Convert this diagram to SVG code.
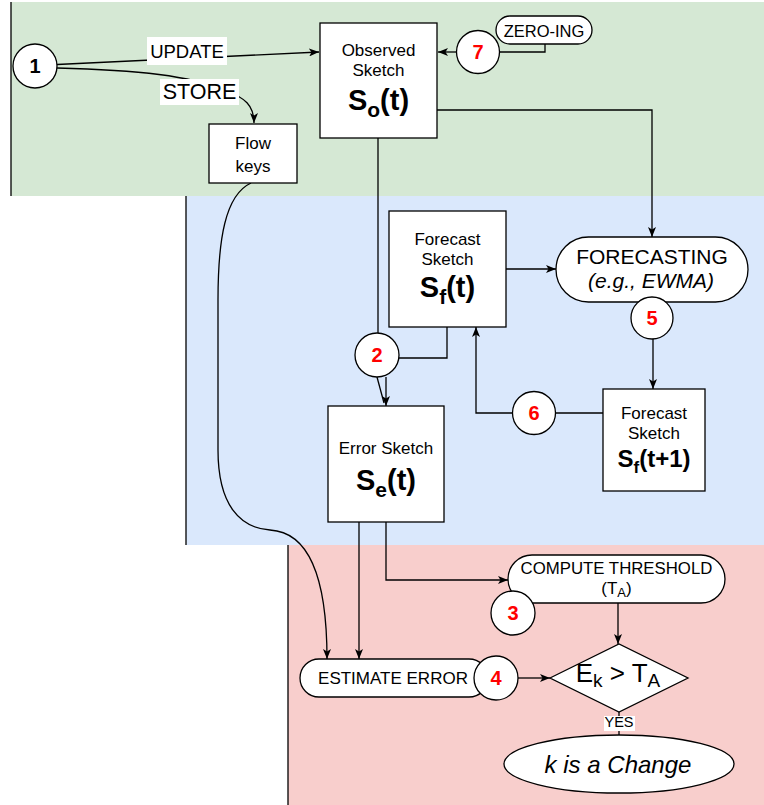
<svg xmlns="http://www.w3.org/2000/svg" width="764" height="805" viewBox="0 0 764 805">
  <style>
    text { font-family: "Liberation Sans", Arial, Helvetica, sans-serif; text-anchor: middle; fill: #000; }
    .box { fill: #fff; stroke: #000; stroke-width: 1.3; }
    .lane { stroke: #000; stroke-width: 1.3; }
    .edge { fill: none; stroke: #000; stroke-width: 1.3; }
    .arr { marker-end: url(#arrow); }
    .lbl { font-size: 17px; }
    .big { font-size: 29px; font-weight: bold; }
    .num { font-size: 20px; font-weight: bold; fill: #ff0000; }
  </style>
  <defs>
    <marker id="arrow" viewBox="0 0 10 8" refX="10" refY="4" markerWidth="10" markerHeight="8" markerUnits="userSpaceOnUse" orient="auto">
      <path d="M0,0 L10,4 L0,8 L2.5,4 Z" fill="#000"/>
    </marker>
  </defs>

  <!-- swimlane backgrounds -->
  <g id="lanes">
    <rect x="11" y="2" width="753" height="194" fill="#d5e8d4"/>
    <line class="lane" x1="11" y1="2" x2="11" y2="196"/>
    <rect x="186" y="196" width="578" height="349" fill="#dae8fc"/>
    <line class="lane" x1="186" y1="196" x2="186" y2="545"/>
    <rect x="288" y="545" width="476" height="260" fill="#f8cecc"/>
    <line class="lane" x1="288" y1="545" x2="288" y2="805"/>
  </g>

  <!-- connectors -->
  <g id="connectors">
    <path class="edge arr" d="M57 64.5 L319 52"/>
    <path class="edge arr" d="M57 68 C140 70 190 76 225 90 C245 98 254 105 254 123"/>
    <path class="edge arr" d="M457 52 L438 52"/>
    <path class="edge" d="M545 44 L545 52 L500 52"/>
    <path class="edge arr" d="M437 110 L652 110 L652 237"/>
    <path class="edge" d="M378 138 L378 333"/>
    <path class="edge" d="M447 327 L447 358 L399 358"/>
    <path class="edge" d="M377 377 L384 403"/>
    <path class="edge arr" d="M386 377 L386 406"/>
    <path class="edge arr" d="M506 269 L556 269"/>
    <path class="edge arr" d="M653 339 L653 389"/>
    <path class="edge" d="M603 413 L556 413"/>
    <path class="edge arr" d="M512 413 L476 413 L476 327"/>
    <path class="edge arr" d="M359 522 L359 659"/>
    <path class="edge arr" d="M386 522 L386 580 L508 580"/>
    <path class="edge arr" d="M251 183 C225 195 218 240 218 300 L218 450 C218 505 240 528 270 530 C305 532 327 570 327 659"/>
    <path class="edge arr" d="M618 603 L618 644"/>
    <path class="edge arr" d="M518 678 L550 678"/>
    <path class="edge" d="M619 712 L619 735"/>
    <!-- edge labels -->
    <rect x="147" y="37" width="80" height="28" fill="#fff"/>
    <text x="187" y="58" style="font-size:18.5px">UPDATE</text>
    <rect x="160" y="79" width="79" height="26" fill="#fff"/>
    <text x="199.5" y="99" style="font-size:21.5px">STORE</text>
    <rect x="604" y="716" width="31" height="15" fill="#fff"/>
    <text x="619" y="727" style="font-size:14.5px">YES</text>
  </g>

  <g id="flow-keys">
    <rect class="box" x="209" y="124" width="88" height="59"/>
    <text class="lbl" x="253" y="149">Flow</text>
    <text class="lbl" x="253" y="172">keys</text>
  </g>

  <g id="observed-sketch">
    <rect class="box" x="320" y="23" width="117" height="115"/>
    <text class="lbl" x="378.5" y="56">Observed</text>
    <text class="lbl" x="378.5" y="76">Sketch</text>
    <text class="big" x="378.5" y="110">S<tspan style="font-size:21px" dy="7">o</tspan><tspan dy="-7">(t)</tspan></text>
  </g>

  <g id="zeroing">
    <rect class="box" x="496" y="16" width="96" height="28" rx="14"/>
    <text x="544" y="37" style="font-size:16.5px">ZERO-ING</text>
  </g>

  <g id="forecast-sketch">
    <rect class="box" x="389" y="211" width="117" height="116"/>
    <text class="lbl" x="447.5" y="245">Forecast</text>
    <text class="lbl" x="447.5" y="265">Sketch</text>
    <text class="big" x="447.5" y="297">S<tspan style="font-size:21px" dy="7">f</tspan><tspan dy="-7">(t)</tspan></text>
  </g>

  <g id="forecasting">
    <rect class="box" x="556" y="237" width="192" height="65" rx="32.5"/>
    <text x="652" y="264" style="font-size:21px">FORECASTING</text>
    <text x="651" y="288" style="font-size:21px;font-style:italic">(e.g., EWMA)</text>
  </g>

  <g id="forecast-sketch-next">
    <rect class="box" x="603" y="389" width="102" height="102"/>
    <text class="lbl" x="654" y="419">Forecast</text>
    <text class="lbl" x="654" y="439">Sketch</text>
    <text x="654" y="467" style="font-size:24px;font-weight:bold">S<tspan style="font-size:17px" dy="6">f</tspan><tspan dy="-6">(t+1)</tspan></text>
  </g>

  <g id="error-sketch">
    <rect class="box" x="328" y="406" width="116" height="116"/>
    <text class="lbl" x="386" y="454">Error Sketch</text>
    <text class="big" x="386" y="490">S<tspan style="font-size:21px" dy="7">e</tspan><tspan dy="-7">(t)</tspan></text>
  </g>

  <g id="compute-threshold">
    <rect class="box" x="508" y="555" width="217" height="48" rx="24"/>
    <text x="616.5" y="574" style="font-size:16.8px">COMPUTE THRESHOLD</text>
    <text class="lbl" x="616.5" y="594">(T<tspan style="font-size:13px" dy="3">A</tspan><tspan dy="-3">)</tspan></text>
  </g>

  <g id="estimate-error">
    <rect class="box" x="300" y="659" width="188" height="38" rx="19"/>
    <text class="lbl" x="393" y="684">ESTIMATE ERROR</text>
  </g>

  <g id="decision">
    <polygon class="box" points="550,678 619,644 688,678 619,712"/>
    <text x="618" y="682" style="font-size:26px">E<tspan style="font-size:19px" dy="5">k</tspan><tspan dy="-5"> &gt; T</tspan><tspan style="font-size:19px" dy="5">A</tspan></text>
  </g>

  <g id="change">
    <ellipse class="box" cx="619" cy="764" rx="115" ry="29"/>
    <text x="618" y="773" style="font-size:24px;font-style:italic">k is a Change</text>
  </g>

  <!-- numbered step markers -->
  <g id="step-1">
    <circle class="box" cx="35" cy="66" r="22"/>
    <text x="35" y="73" style="font-size:20px;font-weight:bold">1</text>
  </g>
  <g id="step-2">
    <circle class="box" cx="377" cy="355" r="22"/>
    <text class="num" x="377" y="362">2</text>
  </g>
  <g id="step-3">
    <circle class="box" cx="513" cy="613" r="22"/>
    <text class="num" x="513" y="620">3</text>
  </g>
  <g id="step-4">
    <circle class="box" cx="496" cy="678" r="22"/>
    <text class="num" x="496" y="685">4</text>
  </g>
  <g id="step-5">
    <circle class="box" cx="652" cy="318" r="21"/>
    <text class="num" x="652" y="325">5</text>
  </g>
  <g id="step-6">
    <circle class="box" cx="534" cy="413" r="21.5"/>
    <text class="num" x="534" y="420">6</text>
  </g>
  <g id="step-7">
    <circle class="box" cx="478" cy="52" r="21.5"/>
    <text class="num" x="478" y="59">7</text>
  </g>
</svg>
